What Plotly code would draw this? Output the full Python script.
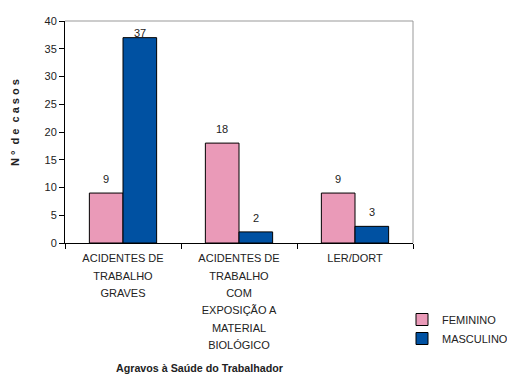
import plotly.graph_objects as go

categories = ["ACIDENTES DE<br>TRABALHO<br>GRAVES",
              "ACIDENTES DE<br>TRABALHO<br>COM<br>EXPOSIÇÃO A<br>MATERIAL<br>BIOLÓGICO",
              "LER/DORT"]
feminino = [9, 18, 9]
masculino = [37, 2, 3]
y_ticks = [0, 5, 10, 15, 20, 25, 30, 35, 40]
y_max = 40

FONT = "Liberation Sans, Arial, sans-serif"

# plot area in pixels
L, R, T, B = 65, 413, 21, 243
W, H = R - L, B - T

def px(x):
    return (x - L) / W

def py(y):
    return (B - y) / H

fig = go.Figure()
fig.add_trace(go.Bar(x=categories, y=feminino, name="FEMININO",
                     marker=dict(color="#EA9AB8", line=dict(color="#000000", width=1))))
fig.add_trace(go.Bar(x=categories, y=masculino, name="MASCULINO",
                     marker=dict(color="#0051A2", line=dict(color="#000000", width=1))))

# value labels above bars (kept inside the plot top like the original)
annotations = []
unit = H / y_max
for series, shift in ((feminino, -17), (masculino, 17)):
    for cat, v in zip(categories, series):
        gap = min(14, (y_max - v) * unit - 12)
        annotations.append(dict(x=cat, y=v, xref="x", yref="y", text=str(v),
                                showarrow=False, xshift=shift, yshift=gap,
                                xanchor="center", yanchor="middle",
                                font=dict(size=11, family=FONT, color="#222222")))

def tick_text(c):
    return "<br>".join('<span style="font-size:11px">%s</span>' % s for s in c.split("<br>"))

annotations += [
    dict(text="<b>Agravos à Saúde do Trabalhador</b>", xref="paper", yref="paper",
         x=px(199), y=py(368), xanchor="center", yanchor="middle",
         showarrow=False, font=dict(size=10.7, family=FONT, color="#222222")),
    dict(text="<b>N&nbsp;°&nbsp;&nbsp;d&nbsp;e&nbsp;&nbsp;c&nbsp;a&nbsp;s&nbsp;o&nbsp;s</b>",
         xref="paper", yref="paper",
         x=px(15), y=py(123), xanchor="center", yanchor="middle",
         textangle=-90, showarrow=False,
         font=dict(size=11, family=FONT, color="#222222")),
]

fig.update_layout(
    width=507, height=374,
    margin=dict(l=L, r=507 - R, t=T, b=374 - B, autoexpand=False),
    paper_bgcolor="white", plot_bgcolor="white",
    font=dict(family=FONT, size=11, color="#222222"),
    barmode="group", bargap=0.42, bargroupgap=0,
    showlegend=True,
    legend=dict(x=px(402), y=py(305), xanchor="left", yanchor="top",
                font=dict(size=11, family=FONT), bgcolor="rgba(0,0,0,0)",
                traceorder="normal", itemwidth=30),
    xaxis=dict(type="category", tickson="boundaries", ticks="outside", ticklen=5,
               tickcolor="black", showline=True, linecolor="black", linewidth=1,
               tickfont=dict(size=13.4), showgrid=False, tickangle=0,
               tickvals=categories, ticktext=[tick_text(c) for c in categories],
               ticklabelstandoff=2, title=None),
    yaxis=dict(range=[0, y_max], tickvals=y_ticks, ticks="outside", ticklen=5,
               tickcolor="black", showline=True, linecolor="black", linewidth=1,
               showgrid=False, zeroline=False, tickfont=dict(size=11),
               title=None),
    shapes=[
        dict(type="line", xref="paper", yref="paper", x0=0, x1=1, y0=1, y1=1,
             line=dict(color="#999999", width=1)),
        dict(type="line", xref="paper", yref="paper", x0=1, x1=1, y0=0, y1=1,
             line=dict(color="#999999", width=1)),
    ],
    annotations=annotations,
)

fig.write_html("out.html")
